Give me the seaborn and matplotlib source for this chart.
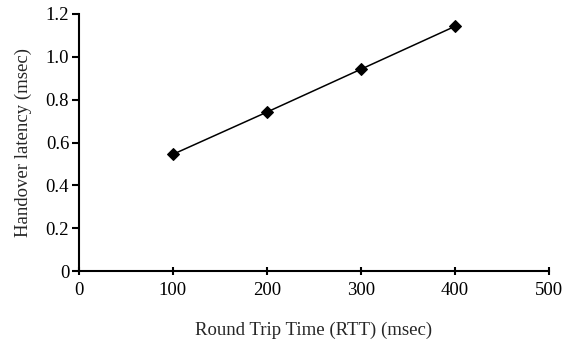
import matplotlib
matplotlib.use("Agg")
import matplotlib.pyplot as plt
import seaborn as sns
import pandas as pd
from matplotlib.ticker import FuncFormatter

rtt = [100, 200, 300, 400]
latency = [0.545, 0.742, 0.942, 1.142]

df = pd.DataFrame({"rtt": rtt, "latency": latency})

sns.set_style("ticks")
plt.rcParams["font.family"] = ["Liberation Serif", "DejaVu Serif"]

fig = plt.figure(figsize=(5.64, 3.41), dpi=100)
ax = fig.add_axes([0.140, 0.205, 0.833, 0.754])

sns.lineplot(data=df, x="rtt", y="latency", ax=ax, color="black", lw=1.1,
             marker="D", markersize=6, markeredgecolor="black")

ax.set_xlim(0, 500)
ax.set_ylim(0, 1.2)
ax.set_xticks([0, 100, 200, 300, 400, 500])
ax.set_yticks([0, 0.2, 0.4, 0.6, 0.8, 1.0, 1.2])
ax.yaxis.set_major_formatter(FuncFormatter(lambda v, p: "0" if v == 0 else f"{v:.1f}"))
ax.tick_params(axis="y", direction="out", length=5, width=1.5, labelsize=13.5, colors="black", pad=2)
ax.tick_params(axis="x", direction="inout", length=6, width=1.5, labelsize=13.5, colors="black", pad=5)
for s in ["left", "bottom"]:
    ax.spines[s].set_linewidth(1.5)
    ax.spines[s].set_color("black")
sns.despine(ax=ax)

ax.set_xlabel("Round Trip Time (RTT) (msec)", fontsize=13.5, labelpad=16)
ax.set_ylabel("Handover latency (msec)", fontsize=13.5, labelpad=10)

fig.savefig("out.png", dpi=100)
